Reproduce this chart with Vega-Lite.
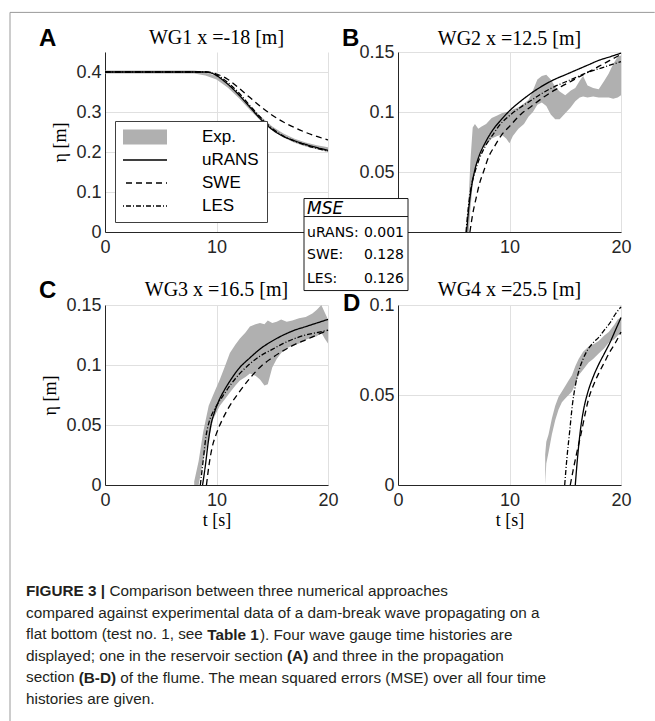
{
  "$schema": "https://vega.github.io/schema/vega-lite/v6.json",
  "padding": {"left": 9, "top": 11, "right": 0, "bottom": 0},
  "background": "white",
  "datasets": {
    "panels": [
      {"panel": "A", "title": "WG1 x =-18 [m]"},
      {"panel": "B", "title": "WG2 x =12.5 [m]"},
      {"panel": "C", "title": "WG3 x =16.5 [m]"},
      {"panel": "D", "title": "WG4 x =25.5 [m]"}
    ],
    "mse": [
      {"method": "uRANS", "label": "uRANS:", "mse": 0.001},
      {"method": "SWE", "label": "SWE:", "mse": 0.128},
      {"method": "LES", "label": "LES:", "mse": 0.126}
    ],
    "models": [
      {"panel": "A", "series": "uRANS", "t": 0, "eta": 0.4},
      {"panel": "A", "series": "uRANS", "t": 9, "eta": 0.4},
      {"panel": "A", "series": "uRANS", "t": 9.5, "eta": 0.398},
      {"panel": "A", "series": "uRANS", "t": 10, "eta": 0.391},
      {"panel": "A", "series": "uRANS", "t": 11, "eta": 0.37},
      {"panel": "A", "series": "uRANS", "t": 12, "eta": 0.343},
      {"panel": "A", "series": "uRANS", "t": 13, "eta": 0.312},
      {"panel": "A", "series": "uRANS", "t": 14, "eta": 0.281},
      {"panel": "A", "series": "uRANS", "t": 15, "eta": 0.256},
      {"panel": "A", "series": "uRANS", "t": 16, "eta": 0.239},
      {"panel": "A", "series": "uRANS", "t": 17, "eta": 0.228},
      {"panel": "A", "series": "uRANS", "t": 18, "eta": 0.219},
      {"panel": "A", "series": "uRANS", "t": 19, "eta": 0.211},
      {"panel": "A", "series": "uRANS", "t": 20, "eta": 0.204},
      {"panel": "A", "series": "SWE", "t": 0, "eta": 0.4},
      {"panel": "A", "series": "SWE", "t": 9, "eta": 0.4},
      {"panel": "A", "series": "SWE", "t": 9.5, "eta": 0.399},
      {"panel": "A", "series": "SWE", "t": 10, "eta": 0.395},
      {"panel": "A", "series": "SWE", "t": 11, "eta": 0.382},
      {"panel": "A", "series": "SWE", "t": 12, "eta": 0.36},
      {"panel": "A", "series": "SWE", "t": 13, "eta": 0.336},
      {"panel": "A", "series": "SWE", "t": 14, "eta": 0.313},
      {"panel": "A", "series": "SWE", "t": 15, "eta": 0.292},
      {"panel": "A", "series": "SWE", "t": 16, "eta": 0.275},
      {"panel": "A", "series": "SWE", "t": 17, "eta": 0.261},
      {"panel": "A", "series": "SWE", "t": 18, "eta": 0.249},
      {"panel": "A", "series": "SWE", "t": 19, "eta": 0.239},
      {"panel": "A", "series": "SWE", "t": 20, "eta": 0.23},
      {"panel": "A", "series": "LES", "t": 0, "eta": 0.4},
      {"panel": "A", "series": "LES", "t": 9, "eta": 0.4},
      {"panel": "A", "series": "LES", "t": 9.5, "eta": 0.398},
      {"panel": "A", "series": "LES", "t": 10, "eta": 0.393},
      {"panel": "A", "series": "LES", "t": 11, "eta": 0.374},
      {"panel": "A", "series": "LES", "t": 12, "eta": 0.348},
      {"panel": "A", "series": "LES", "t": 13, "eta": 0.316},
      {"panel": "A", "series": "LES", "t": 14, "eta": 0.285},
      {"panel": "A", "series": "LES", "t": 15, "eta": 0.259},
      {"panel": "A", "series": "LES", "t": 16, "eta": 0.24},
      {"panel": "A", "series": "LES", "t": 17, "eta": 0.227},
      {"panel": "A", "series": "LES", "t": 18, "eta": 0.217},
      {"panel": "A", "series": "LES", "t": 19, "eta": 0.209},
      {"panel": "A", "series": "LES", "t": 20, "eta": 0.202},

      {"panel": "B", "series": "uRANS", "t": 6.15, "eta": 0},
      {"panel": "B", "series": "uRANS", "t": 6.35, "eta": 0.02},
      {"panel": "B", "series": "uRANS", "t": 6.6, "eta": 0.038},
      {"panel": "B", "series": "uRANS", "t": 6.9, "eta": 0.052},
      {"panel": "B", "series": "uRANS", "t": 7.3, "eta": 0.064},
      {"panel": "B", "series": "uRANS", "t": 7.8, "eta": 0.074},
      {"panel": "B", "series": "uRANS", "t": 8.5, "eta": 0.085},
      {"panel": "B", "series": "uRANS", "t": 9.2, "eta": 0.093},
      {"panel": "B", "series": "uRANS", "t": 10, "eta": 0.101},
      {"panel": "B", "series": "uRANS", "t": 11, "eta": 0.109},
      {"panel": "B", "series": "uRANS", "t": 12, "eta": 0.116},
      {"panel": "B", "series": "uRANS", "t": 13, "eta": 0.122},
      {"panel": "B", "series": "uRANS", "t": 14, "eta": 0.127},
      {"panel": "B", "series": "uRANS", "t": 15, "eta": 0.131},
      {"panel": "B", "series": "uRANS", "t": 16, "eta": 0.135},
      {"panel": "B", "series": "uRANS", "t": 17, "eta": 0.139},
      {"panel": "B", "series": "uRANS", "t": 18, "eta": 0.143},
      {"panel": "B", "series": "uRANS", "t": 19, "eta": 0.146},
      {"panel": "B", "series": "uRANS", "t": 20, "eta": 0.149},
      {"panel": "B", "series": "SWE", "t": 6.45, "eta": 0},
      {"panel": "B", "series": "SWE", "t": 6.7, "eta": 0.015},
      {"panel": "B", "series": "SWE", "t": 7.0, "eta": 0.028},
      {"panel": "B", "series": "SWE", "t": 7.3, "eta": 0.04},
      {"panel": "B", "series": "SWE", "t": 7.7, "eta": 0.051},
      {"panel": "B", "series": "SWE", "t": 8.1, "eta": 0.062},
      {"panel": "B", "series": "SWE", "t": 8.7, "eta": 0.072},
      {"panel": "B", "series": "SWE", "t": 9.3, "eta": 0.081},
      {"panel": "B", "series": "SWE", "t": 10, "eta": 0.088},
      {"panel": "B", "series": "SWE", "t": 11, "eta": 0.098},
      {"panel": "B", "series": "SWE", "t": 12, "eta": 0.105},
      {"panel": "B", "series": "SWE", "t": 13, "eta": 0.112},
      {"panel": "B", "series": "SWE", "t": 14, "eta": 0.118},
      {"panel": "B", "series": "SWE", "t": 15, "eta": 0.123},
      {"panel": "B", "series": "SWE", "t": 16, "eta": 0.128},
      {"panel": "B", "series": "SWE", "t": 17, "eta": 0.133},
      {"panel": "B", "series": "SWE", "t": 18, "eta": 0.138},
      {"panel": "B", "series": "SWE", "t": 19, "eta": 0.143},
      {"panel": "B", "series": "SWE", "t": 20, "eta": 0.148},
      {"panel": "B", "series": "LES", "t": 6.1, "eta": 0},
      {"panel": "B", "series": "LES", "t": 6.3, "eta": 0.02},
      {"panel": "B", "series": "LES", "t": 6.55, "eta": 0.037},
      {"panel": "B", "series": "LES", "t": 6.9, "eta": 0.05},
      {"panel": "B", "series": "LES", "t": 7.3, "eta": 0.061},
      {"panel": "B", "series": "LES", "t": 7.8, "eta": 0.071},
      {"panel": "B", "series": "LES", "t": 8.5, "eta": 0.081},
      {"panel": "B", "series": "LES", "t": 9.2, "eta": 0.09},
      {"panel": "B", "series": "LES", "t": 10, "eta": 0.097},
      {"panel": "B", "series": "LES", "t": 11, "eta": 0.104},
      {"panel": "B", "series": "LES", "t": 12, "eta": 0.11},
      {"panel": "B", "series": "LES", "t": 13, "eta": 0.116},
      {"panel": "B", "series": "LES", "t": 14, "eta": 0.121},
      {"panel": "B", "series": "LES", "t": 15, "eta": 0.125},
      {"panel": "B", "series": "LES", "t": 16, "eta": 0.129},
      {"panel": "B", "series": "LES", "t": 17, "eta": 0.133},
      {"panel": "B", "series": "LES", "t": 18, "eta": 0.136},
      {"panel": "B", "series": "LES", "t": 19, "eta": 0.139},
      {"panel": "B", "series": "LES", "t": 20, "eta": 0.142},

      {"panel": "C", "series": "uRANS", "t": 8.75, "eta": 0},
      {"panel": "C", "series": "uRANS", "t": 9.0, "eta": 0.016},
      {"panel": "C", "series": "uRANS", "t": 9.25, "eta": 0.035},
      {"panel": "C", "series": "uRANS", "t": 9.5, "eta": 0.05},
      {"panel": "C", "series": "uRANS", "t": 9.8, "eta": 0.06},
      {"panel": "C", "series": "uRANS", "t": 10.2, "eta": 0.07},
      {"panel": "C", "series": "uRANS", "t": 10.7, "eta": 0.079},
      {"panel": "C", "series": "uRANS", "t": 11.3, "eta": 0.088},
      {"panel": "C", "series": "uRANS", "t": 12, "eta": 0.097},
      {"panel": "C", "series": "uRANS", "t": 13, "eta": 0.106},
      {"panel": "C", "series": "uRANS", "t": 14, "eta": 0.114},
      {"panel": "C", "series": "uRANS", "t": 15, "eta": 0.12},
      {"panel": "C", "series": "uRANS", "t": 16, "eta": 0.125},
      {"panel": "C", "series": "uRANS", "t": 17, "eta": 0.129},
      {"panel": "C", "series": "uRANS", "t": 18, "eta": 0.132},
      {"panel": "C", "series": "uRANS", "t": 19, "eta": 0.135},
      {"panel": "C", "series": "uRANS", "t": 20, "eta": 0.138},
      {"panel": "C", "series": "SWE", "t": 9.1, "eta": 0},
      {"panel": "C", "series": "SWE", "t": 9.35, "eta": 0.018},
      {"panel": "C", "series": "SWE", "t": 9.6, "eta": 0.031},
      {"panel": "C", "series": "SWE", "t": 10, "eta": 0.043},
      {"panel": "C", "series": "SWE", "t": 10.5, "eta": 0.054},
      {"panel": "C", "series": "SWE", "t": 11, "eta": 0.063},
      {"panel": "C", "series": "SWE", "t": 12, "eta": 0.077},
      {"panel": "C", "series": "SWE", "t": 13, "eta": 0.089},
      {"panel": "C", "series": "SWE", "t": 14, "eta": 0.099},
      {"panel": "C", "series": "SWE", "t": 15, "eta": 0.106},
      {"panel": "C", "series": "SWE", "t": 16, "eta": 0.112},
      {"panel": "C", "series": "SWE", "t": 17, "eta": 0.117},
      {"panel": "C", "series": "SWE", "t": 18, "eta": 0.121},
      {"panel": "C", "series": "SWE", "t": 19, "eta": 0.125},
      {"panel": "C", "series": "SWE", "t": 20, "eta": 0.129},
      {"panel": "C", "series": "LES", "t": 8.55, "eta": 0},
      {"panel": "C", "series": "LES", "t": 8.8, "eta": 0.02},
      {"panel": "C", "series": "LES", "t": 9.05, "eta": 0.04},
      {"panel": "C", "series": "LES", "t": 9.35, "eta": 0.053},
      {"panel": "C", "series": "LES", "t": 9.7, "eta": 0.061},
      {"panel": "C", "series": "LES", "t": 10.2, "eta": 0.069},
      {"panel": "C", "series": "LES", "t": 10.7, "eta": 0.076},
      {"panel": "C", "series": "LES", "t": 11.3, "eta": 0.084},
      {"panel": "C", "series": "LES", "t": 12, "eta": 0.092},
      {"panel": "C", "series": "LES", "t": 13, "eta": 0.101},
      {"panel": "C", "series": "LES", "t": 14, "eta": 0.108},
      {"panel": "C", "series": "LES", "t": 15, "eta": 0.113},
      {"panel": "C", "series": "LES", "t": 16, "eta": 0.118},
      {"panel": "C", "series": "LES", "t": 17, "eta": 0.122},
      {"panel": "C", "series": "LES", "t": 18, "eta": 0.125},
      {"panel": "C", "series": "LES", "t": 19, "eta": 0.127},
      {"panel": "C", "series": "LES", "t": 20, "eta": 0.129},

      {"panel": "D", "series": "uRANS", "t": 15.9, "eta": 0},
      {"panel": "D", "series": "uRANS", "t": 16.1, "eta": 0.015},
      {"panel": "D", "series": "uRANS", "t": 16.35, "eta": 0.03},
      {"panel": "D", "series": "uRANS", "t": 16.65, "eta": 0.042},
      {"panel": "D", "series": "uRANS", "t": 17, "eta": 0.051},
      {"panel": "D", "series": "uRANS", "t": 17.5, "eta": 0.06},
      {"panel": "D", "series": "uRANS", "t": 18, "eta": 0.067},
      {"panel": "D", "series": "uRANS", "t": 18.5, "eta": 0.073},
      {"panel": "D", "series": "uRANS", "t": 19, "eta": 0.079},
      {"panel": "D", "series": "uRANS", "t": 19.5, "eta": 0.086},
      {"panel": "D", "series": "uRANS", "t": 20, "eta": 0.093},
      {"panel": "D", "series": "SWE", "t": 15.45, "eta": 0},
      {"panel": "D", "series": "SWE", "t": 15.7, "eta": 0.008},
      {"panel": "D", "series": "SWE", "t": 16, "eta": 0.017},
      {"panel": "D", "series": "SWE", "t": 16.4, "eta": 0.028},
      {"panel": "D", "series": "SWE", "t": 16.8, "eta": 0.04},
      {"panel": "D", "series": "SWE", "t": 17.1, "eta": 0.048},
      {"panel": "D", "series": "SWE", "t": 17.5, "eta": 0.055},
      {"panel": "D", "series": "SWE", "t": 18, "eta": 0.062},
      {"panel": "D", "series": "SWE", "t": 18.5, "eta": 0.068},
      {"panel": "D", "series": "SWE", "t": 19, "eta": 0.074},
      {"panel": "D", "series": "SWE", "t": 19.5, "eta": 0.079},
      {"panel": "D", "series": "SWE", "t": 20, "eta": 0.085},
      {"panel": "D", "series": "LES", "t": 14.95, "eta": 0},
      {"panel": "D", "series": "LES", "t": 15.15, "eta": 0.015},
      {"panel": "D", "series": "LES", "t": 15.4, "eta": 0.03},
      {"panel": "D", "series": "LES", "t": 15.65, "eta": 0.045},
      {"panel": "D", "series": "LES", "t": 15.9, "eta": 0.055},
      {"panel": "D", "series": "LES", "t": 16.2, "eta": 0.063},
      {"panel": "D", "series": "LES", "t": 16.6, "eta": 0.07},
      {"panel": "D", "series": "LES", "t": 17, "eta": 0.075},
      {"panel": "D", "series": "LES", "t": 17.5, "eta": 0.079},
      {"panel": "D", "series": "LES", "t": 18, "eta": 0.082},
      {"panel": "D", "series": "LES", "t": 18.5, "eta": 0.086},
      {"panel": "D", "series": "LES", "t": 19, "eta": 0.09},
      {"panel": "D", "series": "LES", "t": 19.5, "eta": 0.095},
      {"panel": "D", "series": "LES", "t": 20, "eta": 0.099}
    ],
    "exp": [
      {"panel": "A", "t": 0, "lo": 0.396, "hi": 0.404},
      {"panel": "A", "t": 8, "lo": 0.396, "hi": 0.404},
      {"panel": "A", "t": 8.5, "lo": 0.394, "hi": 0.402},
      {"panel": "A", "t": 9, "lo": 0.391, "hi": 0.399},
      {"panel": "A", "t": 10, "lo": 0.381, "hi": 0.39},
      {"panel": "A", "t": 11, "lo": 0.361, "hi": 0.371},
      {"panel": "A", "t": 12, "lo": 0.335, "hi": 0.346},
      {"panel": "A", "t": 13, "lo": 0.305, "hi": 0.316},
      {"panel": "A", "t": 14, "lo": 0.277, "hi": 0.288},
      {"panel": "A", "t": 15, "lo": 0.254, "hi": 0.264},
      {"panel": "A", "t": 16, "lo": 0.236, "hi": 0.246},
      {"panel": "A", "t": 17, "lo": 0.223, "hi": 0.233},
      {"panel": "A", "t": 18, "lo": 0.214, "hi": 0.224},
      {"panel": "A", "t": 19, "lo": 0.207, "hi": 0.217},
      {"panel": "A", "t": 20, "lo": 0.2, "hi": 0.212},

      {"panel": "B", "t": 6.2, "lo": 0, "hi": 0.005},
      {"panel": "B", "t": 6.35, "lo": 0, "hi": 0.03},
      {"panel": "B", "t": 6.5, "lo": 0.02, "hi": 0.06},
      {"panel": "B", "t": 6.7, "lo": 0.04, "hi": 0.087},
      {"panel": "B", "t": 6.9, "lo": 0.05, "hi": 0.09},
      {"panel": "B", "t": 7.2, "lo": 0.062, "hi": 0.086},
      {"panel": "B", "t": 7.5, "lo": 0.07, "hi": 0.088},
      {"panel": "B", "t": 7.9, "lo": 0.072, "hi": 0.09},
      {"panel": "B", "t": 8.4, "lo": 0.078, "hi": 0.095},
      {"panel": "B", "t": 8.9, "lo": 0.08, "hi": 0.097},
      {"panel": "B", "t": 9.3, "lo": 0.081, "hi": 0.099},
      {"panel": "B", "t": 9.7, "lo": 0.078, "hi": 0.1},
      {"panel": "B", "t": 10, "lo": 0.074, "hi": 0.1},
      {"panel": "B", "t": 10.3, "lo": 0.08, "hi": 0.102},
      {"panel": "B", "t": 10.8, "lo": 0.086, "hi": 0.104},
      {"panel": "B", "t": 11.3, "lo": 0.09, "hi": 0.107},
      {"panel": "B", "t": 11.7, "lo": 0.096, "hi": 0.11},
      {"panel": "B", "t": 12.1, "lo": 0.1, "hi": 0.118},
      {"panel": "B", "t": 12.5, "lo": 0.106, "hi": 0.127},
      {"panel": "B", "t": 12.9, "lo": 0.108, "hi": 0.13},
      {"panel": "B", "t": 13.3, "lo": 0.105, "hi": 0.131},
      {"panel": "B", "t": 13.7, "lo": 0.098, "hi": 0.127},
      {"panel": "B", "t": 14.1, "lo": 0.094, "hi": 0.121},
      {"panel": "B", "t": 14.5, "lo": 0.094, "hi": 0.117},
      {"panel": "B", "t": 15, "lo": 0.099, "hi": 0.114},
      {"panel": "B", "t": 15.5, "lo": 0.104, "hi": 0.118},
      {"panel": "B", "t": 15.9, "lo": 0.109, "hi": 0.12},
      {"panel": "B", "t": 16.3, "lo": 0.112, "hi": 0.126},
      {"panel": "B", "t": 16.6, "lo": 0.113, "hi": 0.13},
      {"panel": "B", "t": 17, "lo": 0.112, "hi": 0.122},
      {"panel": "B", "t": 17.5, "lo": 0.113, "hi": 0.12},
      {"panel": "B", "t": 18, "lo": 0.112, "hi": 0.119},
      {"panel": "B", "t": 18.5, "lo": 0.112, "hi": 0.126},
      {"panel": "B", "t": 18.9, "lo": 0.112, "hi": 0.132},
      {"panel": "B", "t": 19.3, "lo": 0.111, "hi": 0.14},
      {"panel": "B", "t": 19.7, "lo": 0.112, "hi": 0.146},
      {"panel": "B", "t": 20, "lo": 0.114, "hi": 0.147},

      {"panel": "C", "t": 8.0, "lo": 0, "hi": 0.003},
      {"panel": "C", "t": 8.4, "lo": 0, "hi": 0.02},
      {"panel": "C", "t": 8.8, "lo": 0.02, "hi": 0.044},
      {"panel": "C", "t": 9.3, "lo": 0.038, "hi": 0.066},
      {"panel": "C", "t": 9.7, "lo": 0.055, "hi": 0.075},
      {"panel": "C", "t": 10.3, "lo": 0.066, "hi": 0.088},
      {"panel": "C", "t": 10.8, "lo": 0.072, "hi": 0.1},
      {"panel": "C", "t": 11.2, "lo": 0.077, "hi": 0.11},
      {"panel": "C", "t": 11.7, "lo": 0.083, "hi": 0.117},
      {"panel": "C", "t": 12.1, "lo": 0.087, "hi": 0.122},
      {"panel": "C", "t": 12.6, "lo": 0.09, "hi": 0.127},
      {"panel": "C", "t": 13, "lo": 0.093, "hi": 0.132},
      {"panel": "C", "t": 13.5, "lo": 0.091, "hi": 0.134},
      {"panel": "C", "t": 13.9, "lo": 0.088, "hi": 0.135},
      {"panel": "C", "t": 14.3, "lo": 0.083, "hi": 0.134},
      {"panel": "C", "t": 14.6, "lo": 0.084, "hi": 0.137},
      {"panel": "C", "t": 15, "lo": 0.098, "hi": 0.135},
      {"panel": "C", "t": 15.4, "lo": 0.105, "hi": 0.136},
      {"panel": "C", "t": 15.8, "lo": 0.11, "hi": 0.138},
      {"panel": "C", "t": 16.3, "lo": 0.114, "hi": 0.136},
      {"panel": "C", "t": 16.8, "lo": 0.116, "hi": 0.137},
      {"panel": "C", "t": 17.4, "lo": 0.118, "hi": 0.139},
      {"panel": "C", "t": 18, "lo": 0.121, "hi": 0.14},
      {"panel": "C", "t": 18.6, "lo": 0.123, "hi": 0.143},
      {"panel": "C", "t": 19, "lo": 0.124, "hi": 0.146},
      {"panel": "C", "t": 19.4, "lo": 0.127, "hi": 0.15},
      {"panel": "C", "t": 19.7, "lo": 0.122, "hi": 0.144},
      {"panel": "C", "t": 20, "lo": 0.118, "hi": 0.138},

      {"panel": "D", "t": 13.2, "lo": 0, "hi": 0.017},
      {"panel": "D", "t": 13.3, "lo": 0.012, "hi": 0.024},
      {"panel": "D", "t": 13.5, "lo": 0.018, "hi": 0.028},
      {"panel": "D", "t": 13.8, "lo": 0.028, "hi": 0.037},
      {"panel": "D", "t": 14.1, "lo": 0.036, "hi": 0.044},
      {"panel": "D", "t": 14.4, "lo": 0.042, "hi": 0.049},
      {"panel": "D", "t": 14.7, "lo": 0.046, "hi": 0.052},
      {"panel": "D", "t": 15, "lo": 0.048, "hi": 0.055},
      {"panel": "D", "t": 15.3, "lo": 0.05, "hi": 0.058},
      {"panel": "D", "t": 15.6, "lo": 0.052, "hi": 0.061},
      {"panel": "D", "t": 15.9, "lo": 0.056, "hi": 0.066},
      {"panel": "D", "t": 16.2, "lo": 0.061, "hi": 0.07},
      {"panel": "D", "t": 16.6, "lo": 0.064, "hi": 0.074},
      {"panel": "D", "t": 17.1, "lo": 0.068, "hi": 0.077},
      {"panel": "D", "t": 17.5, "lo": 0.07, "hi": 0.078},
      {"panel": "D", "t": 18, "lo": 0.073, "hi": 0.08},
      {"panel": "D", "t": 18.5, "lo": 0.076, "hi": 0.083},
      {"panel": "D", "t": 18.9, "lo": 0.079, "hi": 0.085},
      {"panel": "D", "t": 19.4, "lo": 0.081, "hi": 0.089},
      {"panel": "D", "t": 19.7, "lo": 0.083, "hi": 0.092},
      {"panel": "D", "t": 20, "lo": 0.084, "hi": 0.093}
    ]
  },
  "columns": 2,
  "spacing": {"row": 73, "column": 70},
  "bounds": "flush",
  "resolve": {
    "scale": {"color": "independent", "strokeDash": "independent"},
    "legend": {"color": "independent", "strokeDash": "independent"}
  },
  "concat": [
    {
      "width": 223,
      "height": 180,
      "layer": [
        {
          "data": {"name": "exp"},
          "transform": [{"filter": "datum.panel === 'A'"}],
          "mark": {"type": "area", "color": "#b0b0b0"},
          "encoding": {
            "x": {"field": "t", "type": "quantitative", "scale": {"domain": [0, 20], "nice": false}, "axis": {"values": [0, 10, 20], "labelExpr": "datum.value == 20 ? '' : datum.label", "title": null}},
            "y": {"field": "lo", "type": "quantitative", "scale": {"domain": [0, 0.45], "nice": false}, "axis": {"values": [0, 0.1, 0.2, 0.3, 0.4], "format": "~g", "title": "η [m]"}},
            "y2": {"field": "hi"}
          }
        },
        {
          "data": {"name": "models"},
          "transform": [{"filter": "datum.panel === 'A'"}],
          "mark": {"type": "line", "interpolate": "monotone", "strokeWidth": 1.3},
          "encoding": {
            "x": {"field": "t", "type": "quantitative"},
            "y": {"field": "eta", "type": "quantitative"},
            "color": {
              "field": "series", "type": "nominal",
              "scale": {"domain": ["Exp.", "uRANS", "SWE", "LES"], "range": ["#b0b0b0", "#000000", "#000000", "#000000"]},
              "legend": {"title": null, "orient": "bottom-left", "offset": 10, "encode": {"symbols": {"update": {"strokeWidth": {"signal": "datum.value === 'Exp.' ? 15 : 1.3"}}}}}
            },
            "strokeDash": {
              "field": "series", "type": "nominal",
              "scale": {"domain": ["Exp.", "uRANS", "SWE", "LES"], "range": [[1, 0], [1, 0], [6, 4], [5, 2, 1, 2]]},
              "legend": {"title": null, "orient": "bottom-left", "offset": 10, "encode": {"symbols": {"update": {"strokeWidth": {"signal": "datum.value === 'Exp.' ? 15 : 1.3"}}}}}
            }
          }
        },
        {
          "data": {"name": "panels"},
          "transform": [{"filter": "datum.panel === 'A'"}],
          "mark": {"type": "text", "font": "Liberation Sans", "fontSize": 24, "fontWeight": "bold", "align": "left", "baseline": "alphabetic", "color": "black"},
          "encoding": {"x": {"datum": -5.92}, "y": {"datum": 0.464}, "text": {"field": "panel"}}
        },
        {
          "data": {"name": "panels"},
          "transform": [{"filter": "datum.panel === 'A'"}],
          "mark": {"type": "text", "font": "Liberation Serif", "fontSize": 20, "align": "center", "baseline": "alphabetic", "color": "black"},
          "encoding": {"x": {"datum": 10}, "y": {"datum": 0.469}, "text": {"field": "title"}}
        },
        {
          "data": {"name": "panels"},
          "transform": [{"filter": "datum.panel === 'A'"}],
          "mark": {"type": "rule", "color": "#9a9a9a", "strokeWidth": 1},
          "encoding": {"x": {"datum": -8.52}, "y": {"datum": 0.549}, "y2": {"datum": -1.224}}
        },
        {
          "data": {"name": "panels"},
          "transform": [{"filter": "datum.panel === 'A'"}],
          "mark": {"type": "rule", "color": "#9a9a9a", "strokeWidth": 1},
          "encoding": {"x": {"datum": -8.52}, "x2": {"datum": 49.3}, "y": {"datum": 0.549}}
        }
      ]
    },
    {
      "width": 223,
      "height": 180,
      "layer": [
        {
          "data": {"name": "exp"},
          "transform": [{"filter": "datum.panel === 'B'"}],
          "mark": {"type": "area", "color": "#b0b0b0"},
          "encoding": {
            "x": {"field": "t", "type": "quantitative", "scale": {"domain": [0, 20], "nice": false}, "axis": {"values": [0, 10, 20], "labelExpr": "datum.value == 0 ? '' : datum.label", "title": null}},
            "y": {"field": "lo", "type": "quantitative", "scale": {"domain": [0, 0.15], "nice": false}, "axis": {"values": [0, 0.05, 0.1, 0.15], "format": "~g", "labelExpr": "datum.value == 0 ? '' : datum.label", "title": null}},
            "y2": {"field": "hi"}
          }
        },
        {
          "data": {"name": "models"},
          "transform": [{"filter": "datum.panel === 'B'"}],
          "mark": {"type": "line", "interpolate": "monotone", "strokeWidth": 1.3},
          "encoding": {
            "x": {"field": "t", "type": "quantitative"},
            "y": {"field": "eta", "type": "quantitative"},
            "color": {"field": "series", "type": "nominal", "scale": {"domain": ["Exp.", "uRANS", "SWE", "LES"], "range": ["#b0b0b0", "#000000", "#000000", "#000000"]}, "legend": null},
            "strokeDash": {"field": "series", "type": "nominal", "scale": {"domain": ["Exp.", "uRANS", "SWE", "LES"], "range": [[1, 0], [1, 0], [6, 4], [5, 2, 1, 2]]}, "legend": null}
          }
        },
        {
          "data": {"name": "panels"},
          "transform": [{"filter": "datum.panel === 'B'"}],
          "mark": {"type": "text", "font": "Liberation Sans", "fontSize": 24, "fontWeight": "bold", "align": "left", "baseline": "alphabetic", "color": "black"},
          "encoding": {"x": {"datum": -5.02}, "y": {"datum": 0.1554}, "text": {"field": "panel"}}
        },
        {
          "data": {"name": "panels"},
          "transform": [{"filter": "datum.panel === 'B'"}],
          "mark": {"type": "text", "font": "Liberation Serif", "fontSize": 20, "align": "center", "baseline": "alphabetic", "color": "black"},
          "encoding": {"x": {"datum": 10}, "y": {"datum": 0.15625}, "text": {"field": "title"}}
        },
        {
          "data": {"name": "panels"},
          "transform": [{"filter": "datum.panel === 'B'"}],
          "mark": {"type": "rect", "fill": "white", "stroke": "#1a1a1a", "strokeWidth": 1},
          "encoding": {"x": {"datum": -8.43}, "x2": {"datum": 0.897}, "y": {"datum": 0.0279}, "y2": {"datum": -0.0488}}
        },
        {
          "data": {"name": "panels"},
          "transform": [{"filter": "datum.panel === 'B'"}],
          "mark": {"type": "rule", "color": "#1a1a1a", "strokeWidth": 1},
          "encoding": {"x": {"datum": -8.43}, "x2": {"datum": 0.897}, "y": {"datum": 0.0129}}
        },
        {
          "data": {"name": "panels"},
          "transform": [{"filter": "datum.panel === 'B'"}],
          "mark": {"type": "text", "font": "DejaVu Sans", "fontSize": 17, "fontStyle": "italic", "align": "left", "baseline": "alphabetic", "color": "black"},
          "encoding": {"x": {"datum": -8.16}, "y": {"datum": 0.0146}, "text": {"value": "MSE"}}
        },
        {
          "data": {"name": "mse"},
          "transform": [{"filter": "datum.method === 'uRANS'"}],
          "encoding": {"y": {"datum": -0.00375}},
          "layer": [
            {"mark": {"type": "text", "font": "DejaVu Sans", "fontSize": 14, "align": "left", "baseline": "alphabetic", "color": "black"}, "encoding": {"x": {"datum": -8.16}, "text": {"field": "label"}}},
            {"mark": {"type": "text", "font": "DejaVu Sans", "fontSize": 14, "align": "right", "baseline": "alphabetic", "color": "black"}, "encoding": {"x": {"datum": 0.54}, "text": {"field": "mse", "format": ".3f"}}}
          ]
        },
        {
          "data": {"name": "mse"},
          "transform": [{"filter": "datum.method === 'SWE'"}],
          "encoding": {"y": {"datum": -0.0229}},
          "layer": [
            {"mark": {"type": "text", "font": "DejaVu Sans", "fontSize": 14, "align": "left", "baseline": "alphabetic", "color": "black"}, "encoding": {"x": {"datum": -8.16}, "text": {"field": "label"}}},
            {"mark": {"type": "text", "font": "DejaVu Sans", "fontSize": 14, "align": "right", "baseline": "alphabetic", "color": "black"}, "encoding": {"x": {"datum": 0.54}, "text": {"field": "mse", "format": ".3f"}}}
          ]
        },
        {
          "data": {"name": "mse"},
          "transform": [{"filter": "datum.method === 'LES'"}],
          "encoding": {"y": {"datum": -0.0429}},
          "layer": [
            {"mark": {"type": "text", "font": "DejaVu Sans", "fontSize": 14, "align": "left", "baseline": "alphabetic", "color": "black"}, "encoding": {"x": {"datum": -8.16}, "text": {"field": "label"}}},
            {"mark": {"type": "text", "font": "DejaVu Sans", "fontSize": 14, "align": "right", "baseline": "alphabetic", "color": "black"}, "encoding": {"x": {"datum": 0.54}, "text": {"field": "mse", "format": ".3f"}}}
          ]
        }
      ]
    },
    {
      "width": 223,
      "height": 180,
      "layer": [
        {
          "data": {"name": "exp"},
          "transform": [{"filter": "datum.panel === 'C'"}],
          "mark": {"type": "area", "color": "#b0b0b0"},
          "encoding": {
            "x": {"field": "t", "type": "quantitative", "scale": {"domain": [0, 20], "nice": false}, "axis": {"values": [0, 10, 20], "title": "t [s]"}},
            "y": {"field": "lo", "type": "quantitative", "scale": {"domain": [0, 0.15], "nice": false}, "axis": {"values": [0, 0.05, 0.1, 0.15], "format": "~g", "title": "η [m]"}},
            "y2": {"field": "hi"}
          }
        },
        {
          "data": {"name": "models"},
          "transform": [{"filter": "datum.panel === 'C'"}],
          "mark": {"type": "line", "interpolate": "monotone", "strokeWidth": 1.3},
          "encoding": {
            "x": {"field": "t", "type": "quantitative"},
            "y": {"field": "eta", "type": "quantitative"},
            "color": {"field": "series", "type": "nominal", "scale": {"domain": ["Exp.", "uRANS", "SWE", "LES"], "range": ["#b0b0b0", "#000000", "#000000", "#000000"]}, "legend": null},
            "strokeDash": {"field": "series", "type": "nominal", "scale": {"domain": ["Exp.", "uRANS", "SWE", "LES"], "range": [[1, 0], [1, 0], [6, 4], [5, 2, 1, 2]]}, "legend": null}
          }
        },
        {
          "data": {"name": "panels"},
          "transform": [{"filter": "datum.panel === 'C'"}],
          "mark": {"type": "text", "font": "Liberation Sans", "fontSize": 24, "fontWeight": "bold", "align": "left", "baseline": "alphabetic", "color": "black"},
          "encoding": {"x": {"datum": -5.92}, "y": {"datum": 0.156}, "text": {"field": "panel"}}
        },
        {
          "data": {"name": "panels"},
          "transform": [{"filter": "datum.panel === 'C'"}],
          "mark": {"type": "text", "font": "Liberation Serif", "fontSize": 20, "align": "center", "baseline": "alphabetic", "color": "black"},
          "encoding": {"x": {"datum": 10}, "y": {"datum": 0.1579}, "text": {"field": "title"}}
        },
        {
          "data": {"name": "panels"},
          "transform": [{"filter": "datum.panel === 'C'"}],
          "mark": {"type": "text", "font": "Liberation Sans", "fontSize": 15.3, "align": "left", "baseline": "alphabetic", "lineHeight": 21.5, "color": "#231f20"},
          "encoding": {
            "x": {"datum": -7.085},
            "y": {"datum": -0.0929},
            "text": {"value": ["", "compared against experimental data of a dam-break wave propagating on a", "flat bottom (test no. 1, see", "displayed; one in the reservoir section", "section", "histories are given."]}
          }
        },
        {
          "data": {"name": "panels"},
          "transform": [{"filter": "datum.panel === 'C'"}],
          "mark": {"type": "text", "font": "Liberation Sans", "fontSize": 15.3, "fontWeight": "bold", "align": "left", "baseline": "alphabetic", "color": "#231f20"},
          "encoding": {"x": {"datum": -7.085}, "y": {"datum": -0.0929}, "text": {"value": "FIGURE 3 |"}}
        },
        {
          "data": {"name": "panels"},
          "transform": [{"filter": "datum.panel === 'C'"}],
          "mark": {"type": "text", "font": "Liberation Sans", "fontSize": 15.3, "align": "left", "baseline": "alphabetic", "color": "#231f20"},
          "encoding": {"x": {"datum": 0.395}, "y": {"datum": -0.0929}, "text": {"value": "Comparison between three numerical approaches"}}
        },
        {
          "data": {"name": "panels"},
          "transform": [{"filter": "datum.panel === 'C'"}],
          "mark": {"type": "text", "font": "Liberation Sans", "fontSize": 15.3, "fontWeight": "bold", "align": "left", "baseline": "alphabetic", "color": "#231f20"},
          "encoding": {"x": {"datum": 9.166}, "y": {"datum": -0.1288}, "text": {"value": "Table 1"}}
        },
        {
          "data": {"name": "panels"},
          "transform": [{"filter": "datum.panel === 'C'"}],
          "mark": {"type": "text", "font": "Liberation Sans", "fontSize": 15.3, "align": "left", "baseline": "alphabetic", "color": "#231f20"},
          "encoding": {"x": {"datum": 13.893}, "y": {"datum": -0.1288}, "text": {"value": "). Four wave gauge time histories are"}}
        },
        {
          "data": {"name": "panels"},
          "transform": [{"filter": "datum.panel === 'C'"}],
          "mark": {"type": "text", "font": "Liberation Sans", "fontSize": 15.3, "fontWeight": "bold", "align": "left", "baseline": "alphabetic", "color": "#231f20"},
          "encoding": {"x": {"datum": 16.323}, "y": {"datum": -0.1467}, "text": {"value": "(A)"}}
        },
        {
          "data": {"name": "panels"},
          "transform": [{"filter": "datum.panel === 'C'"}],
          "mark": {"type": "text", "font": "Liberation Sans", "fontSize": 15.3, "align": "left", "baseline": "alphabetic", "color": "#231f20"},
          "encoding": {"x": {"datum": 18.61}, "y": {"datum": -0.1467}, "text": {"value": "and three in the propagation"}}
        },
        {
          "data": {"name": "panels"},
          "transform": [{"filter": "datum.panel === 'C'"}],
          "mark": {"type": "text", "font": "Liberation Sans", "fontSize": 15.3, "fontWeight": "bold", "align": "left", "baseline": "alphabetic", "color": "#231f20"},
          "encoding": {"x": {"datum": -2.359}, "y": {"datum": -0.1646}, "text": {"value": "(B-D)"}}
        },
        {
          "data": {"name": "panels"},
          "transform": [{"filter": "datum.panel === 'C'"}],
          "mark": {"type": "text", "font": "Liberation Sans", "fontSize": 15.3, "align": "left", "baseline": "alphabetic", "color": "#231f20"},
          "encoding": {"x": {"datum": 1.374}, "y": {"datum": -0.1646}, "text": {"value": "of the flume. The mean squared errors (MSE) over all four time"}}
        }
      ]
    },
    {
      "width": 223,
      "height": 180,
      "layer": [
        {
          "data": {"name": "exp"},
          "transform": [{"filter": "datum.panel === 'D'"}],
          "mark": {"type": "area", "color": "#b0b0b0"},
          "encoding": {
            "x": {"field": "t", "type": "quantitative", "scale": {"domain": [0, 20], "nice": false}, "axis": {"values": [0, 10, 20], "title": "t [s]"}},
            "y": {"field": "lo", "type": "quantitative", "scale": {"domain": [0, 0.1], "nice": false}, "axis": {"values": [0, 0.05, 0.1], "format": "~g", "title": null}},
            "y2": {"field": "hi"}
          }
        },
        {
          "data": {"name": "models"},
          "transform": [{"filter": "datum.panel === 'D'"}],
          "mark": {"type": "line", "interpolate": "monotone", "strokeWidth": 1.3},
          "encoding": {
            "x": {"field": "t", "type": "quantitative"},
            "y": {"field": "eta", "type": "quantitative"},
            "color": {"field": "series", "type": "nominal", "scale": {"domain": ["Exp.", "uRANS", "SWE", "LES"], "range": ["#b0b0b0", "#000000", "#000000", "#000000"]}, "legend": null},
            "strokeDash": {"field": "series", "type": "nominal", "scale": {"domain": ["Exp.", "uRANS", "SWE", "LES"], "range": [[1, 0], [1, 0], [6, 4], [5, 2, 1, 2]]}, "legend": null}
          }
        },
        {
          "data": {"name": "panels"},
          "transform": [{"filter": "datum.panel === 'D'"}],
          "mark": {"type": "text", "font": "Liberation Sans", "fontSize": 24, "fontWeight": "bold", "align": "left", "baseline": "alphabetic", "color": "black"},
          "encoding": {"x": {"datum": -4.93}, "y": {"datum": 0.0964}, "text": {"field": "panel"}}
        },
        {
          "data": {"name": "panels"},
          "transform": [{"filter": "datum.panel === 'D'"}],
          "mark": {"type": "text", "font": "Liberation Serif", "fontSize": 20, "align": "center", "baseline": "alphabetic", "color": "black"},
          "encoding": {"x": {"datum": 10}, "y": {"datum": 0.105}, "text": {"field": "title"}}
        }
      ]
    }
  ],
  "config": {
    "view": {"stroke": null},
    "axis": {
      "domainColor": "#262626",
      "domainWidth": 1,
      "ticks": false,
      "grid": true,
      "gridColor": "#e0e0e0",
      "gridWidth": 1,
      "labelFont": "Liberation Sans",
      "labelFontSize": 18,
      "labelColor": "#262626",
      "labelFlush": false,
      "labelOverlap": false,
      "titleFont": "Liberation Serif",
      "titleFontSize": 18,
      "titleFontWeight": "normal",
      "titleColor": "black"
    },
    "axisX": {"labelPadding": 6, "titlePadding": 2},
    "axisY": {"labelPadding": 4, "titlePadding": 6},
    "legend": {
      "symbolType": "stroke",
      "symbolSize": 5041,
      "clipHeight": 16,
      "rowPadding": 6,
      "padding": 8,
      "labelFont": "Liberation Sans",
      "labelFontSize": 17,
      "labelColor": "black",
      "labelOffset": 62,
      "strokeColor": "#404040",
      "fillColor": "white"
    }
  }
}
